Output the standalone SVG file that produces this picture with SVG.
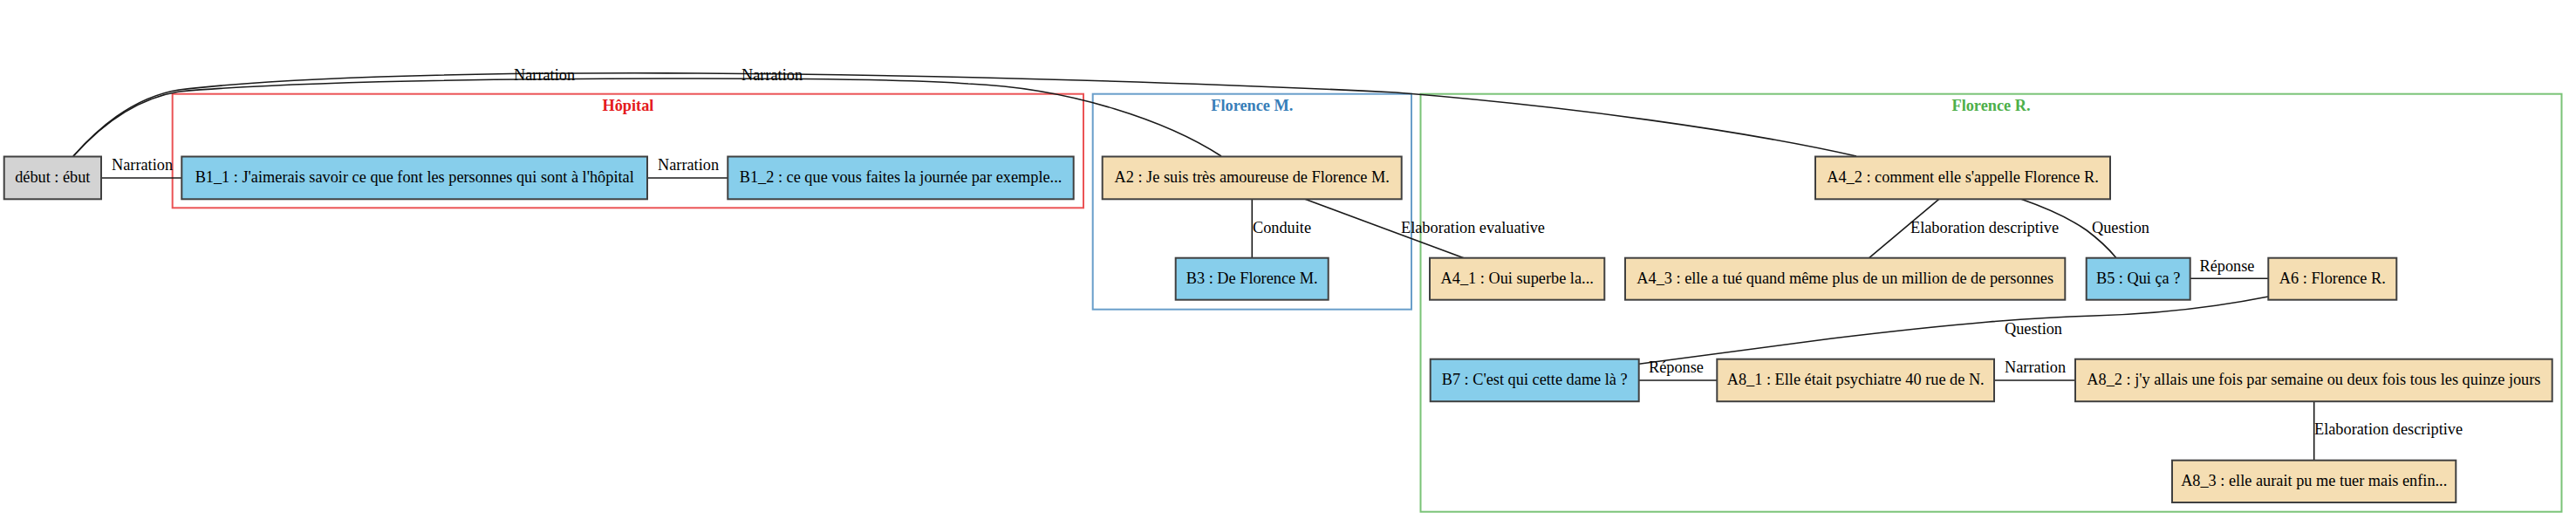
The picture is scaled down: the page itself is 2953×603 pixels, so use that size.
<svg xmlns="http://www.w3.org/2000/svg" width="2953" height="603" viewBox="0 0 2953 603">
<style>
text{font-family:"Liberation Serif","Times New Roman",serif;font-size:18.3px;fill:#000}
.nt{text-anchor:middle}
.ct{text-anchor:middle;font-weight:bold}
.node rect{stroke:#404040;stroke-width:2}
.b rect{fill:#87ceeb}
.a rect{fill:#f5deb3}
.g rect{fill:#d3d3d3}
.cl{fill:none;stroke-width:2;stroke-opacity:0.75}
.e path,.e line{fill:none;stroke:#1a1a1a;stroke-width:1.6}
</style>
<rect width="2953" height="603" fill="#fff"/>
<g id="clusters">
<g id="cluster_hopital">
<rect class="cl" x="197.7" y="107.7" width="1044.3" height="130.6" stroke="#e41a1c"/>
<text class="ct" x="719.9" y="126.7" fill="#e41a1c" style="fill:#e41a1c">Hôpital</text>
</g>
<g id="cluster_florenceM">
<rect class="cl" x="1252.7" y="107.7" width="365.3" height="247" stroke="#377eb8"/>
<text class="ct" x="1435.3" y="126.7" style="fill:#377eb8">Florence M.</text>
</g>
<g id="cluster_florenceR">
<rect class="cl" x="1628.5" y="107.7" width="1308" height="479" stroke="#4daf4a"/>
<text class="ct" x="2282.5" y="126.7" style="fill:#4daf4a">Florence R.</text>
</g>
</g>
<g id="edges" class="e">
<path d="M84,179 C110,150 150,112 205,103 C350,86 600,83 800,84 C1100,86 1400,96 1600,106 C1800,122 2000,150 2128,179"/>
<path d="M84,179 C110,150 150,114 205,105 C350,92 600,90 800,90 C950,90 1060,92 1110,96 C1230,101 1340,140 1400,179"/>
<line x1="116" y1="204" x2="208.3" y2="204"/>
<line x1="742" y1="204" x2="834.3" y2="204"/>
<line x1="1435.3" y1="228.3" x2="1435.3" y2="295.7"/>
<line x1="1496" y1="228.3" x2="1678" y2="295.7"/>
<line x1="2222.7" y1="228.3" x2="2142.7" y2="295.7"/>
<path d="M2317,228.3 C2345,238 2372,250 2392,264 C2408,276 2418,286 2426,295.7"/>
<line x1="2510.7" y1="319.3" x2="2600.3" y2="319.3"/>
<path d="M2600.3,340 C2540,352 2470,360 2400,362 C2330,364 2250,370 2100,388 L1878.7,417.3"/>
<line x1="1878.7" y1="436" x2="1968.3" y2="436"/>
<line x1="2286" y1="436" x2="2379" y2="436"/>
<line x1="2652.7" y1="460.2" x2="2652.7" y2="527.7"/>
<text x="589" y="92">Narration</text>
<text x="850" y="92">Narration</text>
<text x="128" y="195">Narration</text>
<text x="754" y="195">Narration</text>
<text x="1436" y="266.7">Conduite</text>
<text x="1606" y="266.7">Elaboration evaluative</text>
<text x="2190" y="266.7">Elaboration descriptive</text>
<text x="2398" y="266.7">Question</text>
<text x="2521.5" y="310.7">Réponse</text>
<text x="2298" y="382.7">Question</text>
<text x="1890" y="426.7">Réponse</text>
<text x="2298" y="426.7">Narration</text>
<text x="2653" y="498.3">Elaboration descriptive</text>
</g>
<g id="debut" class="node g"><rect x="4.7" y="179.5" width="111.3" height="48.8"/><text class="nt" x="60.3" y="209">début : ébut</text></g>
<g id="B1_1" class="node b"><rect x="208.3" y="179.5" width="533.7" height="48.8"/><text class="nt" x="475.2" y="209">B1_1 : J'aimerais savoir ce que font les personnes qui sont à l'hôpital</text></g>
<g id="B1_2" class="node b"><rect x="834.3" y="179.5" width="396.4" height="48.8"/><text class="nt" x="1032.5" y="209">B1_2 : ce que vous faites la journée par exemple...</text></g>
<g id="A2" class="node a"><rect x="1263.7" y="179.5" width="343" height="48.8"/><text class="nt" x="1435.2" y="209">A2 : Je suis très amoureuse de Florence M.</text></g>
<g id="B3" class="node b"><rect x="1347.7" y="295.7" width="175" height="48"/><text class="nt" x="1435.2" y="325">B3 : De Florence M.</text></g>
<g id="A4_1" class="node a"><rect x="1639" y="295.7" width="200.3" height="48"/><text class="nt" x="1739.2" y="325">A4_1 : Oui superbe la...</text></g>
<g id="A4_2" class="node a"><rect x="2081" y="179.5" width="338" height="48.8"/><text class="nt" x="2250" y="209">A4_2 : comment elle s'appelle Florence R.</text></g>
<g id="A4_3" class="node a"><rect x="1863" y="295.7" width="504.3" height="48"/><text class="nt" x="2115.2" y="325">A4_3 : elle a tué quand même plus de un million de de personnes</text></g>
<g id="B5" class="node b"><rect x="2391.7" y="295.7" width="119" height="48"/><text class="nt" x="2451.2" y="325">B5 : Qui ça ?</text></g>
<g id="A6" class="node a"><rect x="2600.3" y="295.7" width="147" height="48"/><text class="nt" x="2673.8" y="325">A6 : Florence R.</text></g>
<g id="B7" class="node b"><rect x="1639.7" y="411.7" width="239" height="48.5"/><text class="nt" x="1759.2" y="441">B7 : C'est qui cette dame là ?</text></g>
<g id="A8_1" class="node a"><rect x="1968.3" y="411.7" width="317.7" height="48.5"/><text class="nt" x="2127.2" y="441">A8_1 : Elle était psychiatre 40 rue de N.</text></g>
<g id="A8_2" class="node a"><rect x="2379" y="411.7" width="546.7" height="48.5"/><text class="nt" x="2652.4" y="441">A8_2 : j'y allais une fois par semaine ou deux fois tous les quinze jours</text></g>
<g id="A8_3" class="node a"><rect x="2490" y="527.7" width="325.3" height="48.3"/><text class="nt" x="2652.7" y="557">A8_3 : elle aurait pu me tuer mais enfin...</text></g>
</svg>
